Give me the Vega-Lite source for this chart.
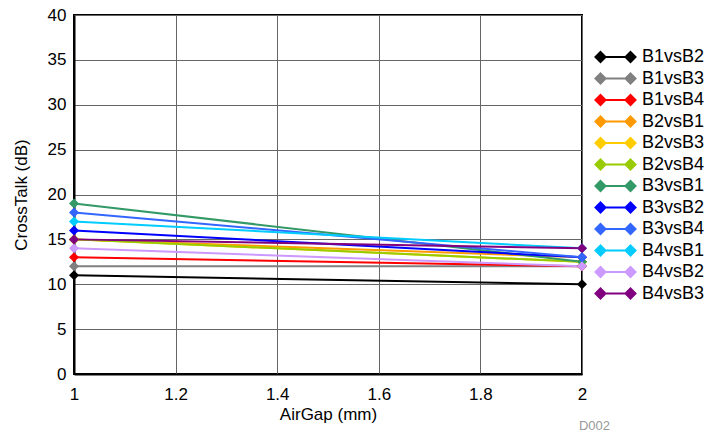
{
  "$schema": "https://vega.github.io/schema/vega-lite/v6.json",
  "autosize": "none",
  "width": 508,
  "height": 359,
  "padding": {"left": 74, "top": 15, "right": 123, "bottom": 60},
  "config": {
    "font": "Liberation Sans",
    "view": {"stroke": "#000", "strokeWidth": 2},
    "axis": {"labelFontSize": 17, "labelColor": "#000", "titleFontSize": 17, "titleFontWeight": "normal", "titleColor": "#000", "gridColor": "#666", "gridWidth": 1, "domainColor": "#000", "domainWidth": 2, "ticks": false, "labelFlush": false}
  },
  "title": {"text": "D002", "orient": "bottom", "anchor": "end", "frame": "group", "fontSize": 13, "fontWeight": "normal", "color": "#999", "offset": 0, "dx": 28, "dy": -2},
  "data": {"values": [
    {"series": "B1vsB2", "airgap": 1, "crosstalk": 11}, {"series": "B1vsB2", "airgap": 2, "crosstalk": 10},
    {"series": "B1vsB3", "airgap": 1, "crosstalk": 12}, {"series": "B1vsB3", "airgap": 2, "crosstalk": 12},
    {"series": "B1vsB4", "airgap": 1, "crosstalk": 13}, {"series": "B1vsB4", "airgap": 2, "crosstalk": 12},
    {"series": "B2vsB1", "airgap": 1, "crosstalk": 15}, {"series": "B2vsB1", "airgap": 2, "crosstalk": 13},
    {"series": "B2vsB3", "airgap": 1, "crosstalk": 15}, {"series": "B2vsB3", "airgap": 2, "crosstalk": 12.5},
    {"series": "B2vsB4", "airgap": 1, "crosstalk": 15}, {"series": "B2vsB4", "airgap": 2, "crosstalk": 12.5},
    {"series": "B3vsB1", "airgap": 1, "crosstalk": 19}, {"series": "B3vsB1", "airgap": 2, "crosstalk": 12.5},
    {"series": "B3vsB2", "airgap": 1, "crosstalk": 16}, {"series": "B3vsB2", "airgap": 2, "crosstalk": 13},
    {"series": "B3vsB4", "airgap": 1, "crosstalk": 18}, {"series": "B3vsB4", "airgap": 2, "crosstalk": 13},
    {"series": "B4vsB1", "airgap": 1, "crosstalk": 17}, {"series": "B4vsB1", "airgap": 2, "crosstalk": 14},
    {"series": "B4vsB2", "airgap": 1, "crosstalk": 14}, {"series": "B4vsB2", "airgap": 2, "crosstalk": 12},
    {"series": "B4vsB3", "airgap": 1, "crosstalk": 15}, {"series": "B4vsB3", "airgap": 2, "crosstalk": 14}
  ]},
  "mark": {"type": "line", "strokeWidth": 2, "point": {"filled": true, "shape": "diamond", "size": 100}},
  "encoding": {
    "x": {"field": "airgap", "type": "quantitative", "title": "AirGap (mm)", "scale": {"domain": [1, 2], "nice": false}, "axis": {"values": [1, 1.2, 1.4, 1.6, 1.8, 2], "format": "~g", "labelPadding": 12, "titlePadding": 4}},
    "y": {"field": "crosstalk", "type": "quantitative", "title": "CrossTalk (dB)", "scale": {"domain": [0, 40]}, "axis": {"values": [0, 5, 10, 15, 20, 25, 30, 35, 40], "labelPadding": 8, "titlePadding": 17}},
    "color": {"field": "series", "type": "nominal", "title": null,
      "scale": {"domain": ["B1vsB2","B1vsB3","B1vsB4","B2vsB1","B2vsB3","B2vsB4","B3vsB1","B3vsB2","B3vsB4","B4vsB1","B4vsB2","B4vsB3"],
                "range": ["#000000","#808080","#ff0000","#ff9900","#ffcc00","#99cc00","#339966","#0000ff","#3366ff","#00ccff","#cc99ff","#800080"]},
      "legend": {"orient": "none", "legendX": 532.5, "legendY": 33, "padding": 0, "labelFontSize": 18, "labelColor": "#000", "labelOffset": 17.5, "rowPadding": 1.5,
        "symbolType": "M-2,0L2,0M-2,-0.67L-1.33,0L-2,0.67L-2.67,0ZM2,-0.67L2.67,0L2,0.67L1.33,0Z", "symbolSize": 225, "symbolStrokeWidth": 2}}
  }
}
